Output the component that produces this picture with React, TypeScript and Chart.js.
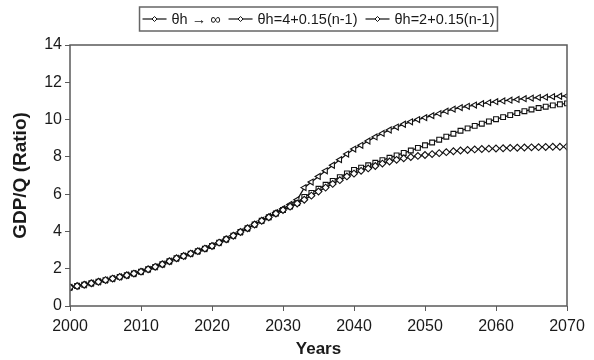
import React, { useEffect, useRef } from "react";
import { Chart, registerables } from "chart.js";

Chart.register(...registerables);

const years: number[] = Array.from({ length: 71 }, (_, i) => 2000 + i);

// θh → ∞ (diamonds, lowest curve)
const thetaInfSeries = [
  1.0, 1.07, 1.14, 1.22, 1.3, 1.39, 1.47, 1.56, 1.65, 1.74,
  1.84, 1.97, 2.1, 2.24, 2.4, 2.56, 2.68, 2.81, 2.94, 3.08,
  3.22, 3.4, 3.58, 3.77, 3.97, 4.17, 4.37, 4.57, 4.76, 4.96,
  5.15, 5.33, 5.5, 5.7, 5.92, 6.14, 6.35, 6.55, 6.75, 6.95,
  7.1, 7.25, 7.38, 7.51, 7.64, 7.75, 7.84, 7.92, 7.99, 8.05,
  8.1, 8.15, 8.2, 8.25, 8.3, 8.34, 8.37, 8.4, 8.42, 8.44,
  8.45, 8.46, 8.48, 8.49, 8.5, 8.51, 8.52, 8.53, 8.54, 8.54,
  8.55,
];

// θh = 4 + 0.15(n-1) (squares, middle curve)
const theta4Series = [
  1.0, 1.07, 1.14, 1.22, 1.3, 1.39, 1.47, 1.56, 1.65, 1.74,
  1.84, 1.97, 2.1, 2.24, 2.4, 2.56, 2.68, 2.81, 2.94, 3.08,
  3.22, 3.4, 3.58, 3.77, 3.97, 4.17, 4.37, 4.57, 4.76, 4.96,
  5.15, 5.33, 5.52, 5.85, 6.07, 6.29, 6.5, 6.71, 6.91, 7.11,
  7.3, 7.42, 7.55, 7.68, 7.82, 7.95, 8.08, 8.21, 8.34, 8.48,
  8.62, 8.77, 8.92, 9.08, 9.24, 9.4, 9.53, 9.66, 9.78, 9.9,
  10.02, 10.13, 10.24, 10.35, 10.45, 10.54, 10.62, 10.69, 10.76, 10.82,
  10.87,
];

// θh = 2 + 0.15(n-1) (triangles, top curve)
const theta2Series = [
  1.0, 1.07, 1.14, 1.22, 1.3, 1.39, 1.47, 1.56, 1.65, 1.74,
  1.84, 1.97, 2.1, 2.24, 2.4, 2.56, 2.68, 2.81, 2.94, 3.08,
  3.22, 3.4, 3.58, 3.77, 3.97, 4.17, 4.38, 4.59, 4.8, 5.01,
  5.22, 5.45, 5.7, 6.35, 6.65, 6.95, 7.25, 7.55, 7.85, 8.15,
  8.42, 8.62, 8.85, 9.07, 9.26, 9.44, 9.6, 9.75, 9.88, 10.0,
  10.1, 10.21, 10.32, 10.45, 10.56, 10.64, 10.71, 10.78, 10.85, 10.91,
  10.96, 11.0, 11.04, 11.08, 11.12, 11.15, 11.18, 11.2, 11.23, 11.25,
  11.27,
];

const legendLabels = ["θh → ∞", "θh=4+0.15(n-1)", "θh=2+0.15(n-1)"];
const pointStyles = ["rectRot", "rect", "triangle"] as const;
const pointRotations = [0, 0, 270];

const xTitle = "Years";
const yTitle = "GDP/Q (Ratio)";

const LINE = "#111";
const AXIS = "#5a5a5a";
const TEXT = "#1a1a1a";
const FONT = "'Liberation Sans', Arial, sans-serif";

function drawMarker(ctx: CanvasRenderingContext2D, style: string, x: number, y: number, r: number) {
  ctx.beginPath();
  if (style === "rect") {
    const s = r * Math.SQRT1_2;
    ctx.rect(x - s, y - s, 2 * s, 2 * s);
  } else if (style === "rectRot") {
    ctx.moveTo(x, y - r);
    ctx.lineTo(x + r, y);
    ctx.lineTo(x, y + r);
    ctx.lineTo(x - r, y);
    ctx.closePath();
  } else {
    ctx.moveTo(x - r, y);
    ctx.lineTo(x + r * 0.5, y - r * 0.866);
    ctx.lineTo(x + r * 0.5, y + r * 0.866);
    ctx.closePath();
  }
  ctx.fill();
  ctx.stroke();
}

const boxLegendPlugin = {
  id: "boxLegend",
  afterDraw(chart: any) {
    const { ctx, chartArea } = chart;
    ctx.save();
    // plot frame
    ctx.strokeStyle = AXIS;
    ctx.lineWidth = 1.5;
    ctx.strokeRect(chartArea.left, chartArea.top, chartArea.right - chartArea.left, chartArea.bottom - chartArea.top);

    // legend
    ctx.font = `14.5px ${FONT}`;
    ctx.textBaseline = "middle";
    const symW = 24;
    const gapSymText = 5;
    const gapItems = 8;
    const padX = 3;
    const widths = legendLabels.map((t) => ctx.measureText(t).width);
    let total = padX * 2;
    widths.forEach((w, i) => {
      total += symW + gapSymText + w + (i < widths.length - 1 ? gapItems : 0);
    });
    const cx = (chartArea.left + chartArea.right) / 2;
    const top = 7;
    const h = 24;
    const left = cx - total / 2;
    const cy = top + h / 2;
    ctx.fillStyle = "#fff";
    ctx.fillRect(left, top, total, h);
    ctx.strokeStyle = "#666";
    ctx.lineWidth = 1.5;
    ctx.strokeRect(left, top, total, h);
    let x = left + padX;
    legendLabels.forEach((t, i) => {
      ctx.strokeStyle = LINE;
      ctx.lineWidth = 1.2;
      ctx.beginPath();
      ctx.moveTo(x, cy);
      ctx.lineTo(x + symW, cy);
      ctx.stroke();
      ctx.fillStyle = "#fff";
      ctx.lineWidth = 1;
      drawMarker(ctx, "rectRot", x + symW / 2, cy, 2.5);
      ctx.fillStyle = TEXT;
      ctx.textAlign = "left";
      ctx.fillText(t, x + symW + gapSymText, cy + 1);
      x += symW + gapSymText + widths[i] + gapItems;
    });
    ctx.restore();
  },
};

export default function App() {
  const canvasRef = useRef<HTMLCanvasElement | null>(null);

  useEffect(() => {
    document.body.style.margin = "0";
    const canvas = canvasRef.current;
    if (!canvas) return;
    const seriesList = [thetaInfSeries, theta4Series, theta2Series];
    const chart = new Chart(canvas, {
      type: "line",
      data: {
        datasets: seriesList.map((s, i) => ({
          label: legendLabels[i],
          data: years.map((yr, k) => ({ x: yr, y: s[k] })),
          borderColor: LINE,
          borderWidth: 1.3,
          backgroundColor: "#ffffff",
          pointBackgroundColor: "#ffffff",
          pointBorderColor: "#111",
          pointBorderWidth: 1.1,
          pointRadius: 3.4,
          pointStyle: pointStyles[i],
          pointRotation: pointRotations[i],
          tension: 0,
          fill: false,
        })),
      },
      options: {
        animation: false,
        responsive: false,
        devicePixelRatio: 1,
        layout: { padding: { top: 45, right: 27, left: 0, bottom: 0 } },
        plugins: {
          legend: { display: false },
          tooltip: { enabled: false },
        },
        scales: {
          x: {
            type: "linear",
            min: 2000,
            max: 2070,
            ticks: {
              stepSize: 10,
              color: TEXT,
              padding: 6,
              font: { family: FONT, size: 16 },
              callback: (v: any) => String(v),
            },
            grid: { drawOnChartArea: false, drawTicks: true, tickLength: 5, color: AXIS, lineWidth: 1 },
            border: { display: false },
            title: {
              display: true,
              text: xTitle,
              color: TEXT,
              padding: { top: 0, bottom: 0 },
              font: { family: FONT, size: 17, weight: "bold" },
            },
            afterFit: (scale: any) => {
              scale.height = 54;
            },
          },
          y: {
            min: 0,
            max: 14,
            ticks: {
              stepSize: 2,
              color: TEXT,
              padding: 3,
              font: { family: FONT, size: 16 },
            },
            grid: { drawOnChartArea: false, drawTicks: true, tickLength: 5, color: AXIS, lineWidth: 1 },
            border: { display: false },
            title: {
              display: true,
              text: yTitle,
              color: TEXT,
              padding: { top: 9, bottom: 0 },
              font: { family: FONT, size: 19, weight: "bold" },
            },
            afterFit: (scale: any) => {
              scale.width = 70;
            },
          },
        },
      },
      plugins: [boxLegendPlugin],
    });
    return () => chart.destroy();
  }, []);

  return (
    <div style={{ width: 594, height: 360, background: "#fff" }}>
      <canvas ref={canvasRef} width={594} height={360} style={{ display: "block" }} />
    </div>
  );
}
